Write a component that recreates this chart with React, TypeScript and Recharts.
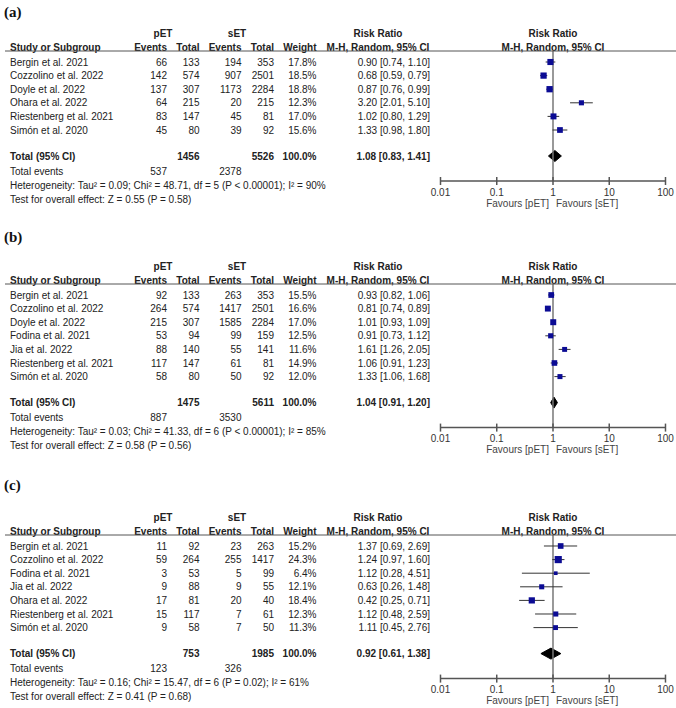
import React from "react";
import {
  Area,
  ComposedChart,
  ErrorBar,
  ReferenceLine,
  Scatter,
  XAxis,
  YAxis,
} from "recharts";

// panel (a)
const studiesA = ["Bergin et al. 2021", "Cozzolino et al. 2022", "Doyle et al. 2022", "Ohara et al. 2022", "Riestenberg et al. 2021", "Simón et al. 2020"];
const pEventsA = [66, 142, 137, 64, 83, 45];
const pTotalA = [133, 574, 307, 215, 147, 80];
const sEventsA = [194, 907, 1173, 20, 45, 39];
const sTotalA = [353, 2501, 2284, 215, 81, 92];
const weightA = [17.8, 18.5, 18.8, 12.3, 17.0, 15.6];
const rrA = [0.9, 0.68, 0.87, 3.2, 1.02, 1.33];
const loA = [0.74, 0.59, 0.76, 2.01, 0.8, 0.98];
const hiA = [1.1, 0.79, 0.99, 5.1, 1.29, 1.8];
const pooledA = [1.08, 0.83, 1.41];
const totalsA = [1456, 5526];
const eventsA = [537, 2378];
const hetA = "Heterogeneity: Tau² = 0.09; Chi² = 48.71, df = 5 (P < 0.00001); I² = 90%";
const testA = "Test for overall effect: Z = 0.55 (P = 0.58)";

// panel (b)
const studiesB = ["Bergin et al. 2021", "Cozzolino et al. 2022", "Doyle et al. 2022", "Fodina et al. 2021", "Jia et al. 2022", "Riestenberg et al. 2021", "Simón et al. 2020"];
const pEventsB = [92, 264, 215, 53, 88, 117, 58];
const pTotalB = [133, 574, 307, 94, 140, 147, 80];
const sEventsB = [263, 1417, 1585, 99, 55, 61, 50];
const sTotalB = [353, 2501, 2284, 159, 141, 81, 92];
const weightB = [15.5, 16.6, 17.0, 12.5, 11.6, 14.9, 12.0];
const rrB = [0.93, 0.81, 1.01, 0.91, 1.61, 1.06, 1.33];
const loB = [0.82, 0.74, 0.93, 0.73, 1.26, 0.91, 1.06];
const hiB = [1.06, 0.89, 1.09, 1.12, 2.05, 1.23, 1.68];
const pooledB = [1.04, 0.91, 1.2];
const totalsB = [1475, 5611];
const eventsB = [887, 3530];
const hetB = "Heterogeneity: Tau² = 0.03; Chi² = 41.33, df = 6 (P < 0.00001); I² = 85%";
const testB = "Test for overall effect: Z = 0.58 (P = 0.56)";

// panel (c)
const studiesC = ["Bergin et al. 2021", "Cozzolino et al. 2022", "Fodina et al. 2021", "Jia et al. 2022", "Ohara et al. 2022", "Riestenberg et al. 2021", "Simón et al. 2020"];
const pEventsC = [11, 59, 3, 9, 17, 15, 9];
const pTotalC = [92, 264, 53, 88, 81, 117, 58];
const sEventsC = [23, 255, 5, 9, 20, 7, 7];
const sTotalC = [263, 1417, 99, 55, 40, 61, 50];
const weightC = [15.2, 24.3, 6.4, 12.1, 18.4, 12.3, 11.3];
const rrC = [1.37, 1.24, 1.12, 0.63, 0.42, 1.12, 1.11];
const loC = [0.69, 0.97, 0.28, 0.26, 0.25, 0.48, 0.45];
const hiC = [2.69, 1.6, 4.51, 1.48, 0.71, 2.59, 2.76];
const pooledC = [0.92, 0.61, 1.38];
const totalsC = [753, 1985];
const eventsC = [123, 326];
const hetC = "Heterogeneity: Tau² = 0.16; Chi² = 15.47, df = 6 (P = 0.02); I² = 61%";
const testC = "Test for overall effect: Z = 0.41 (P = 0.68)";

const axisTicks = [0.01, 0.1, 1, 10, 100];

const FONT = "'Liberation Sans', Arial, sans-serif";
const TXT = "#222";
const ROW = 13.6;
const W = 676;
const PLOT_L = 440.5;
const PLOT_R = 665.5;

const COL = {
  study: 10,
  pEv: 167,
  pTot: 199.5,
  sEv: 241.5,
  sTot: 274,
  weight: 316.5,
  rr: 430,
  rrHead: 378,
  plotHead: 553,
  pET: 163,
  sET: 237,
};

const rrLabel = (r: number, l: number, h: number) =>
  `${r.toFixed(2)} [${l.toFixed(2)}, ${h.toFixed(2)}]`;

// tick mark crosses the axis line, label below
function LogTick(props: any) {
  const { x, y, payload } = props;
  return (
    <g>
      <line x1={x} x2={x} y1={y - 4} y2={y + 4} stroke="#555" strokeWidth={1.5} />
      <text x={x} y={y + 11} textAnchor="middle" dominantBaseline="central" fontSize={10} fontFamily={FONT} fill="#333">
        {String(payload.value)}
      </text>
    </g>
  );
}

// study box, area follows the weight
function Square(props: any) {
  const { cx, cy, payload } = props;
  if (cx == null || cy == null) return null;
  const s = 1.45 * Math.sqrt(payload.w);
  return <rect x={cx - s / 2} y={cy - s / 2} width={s} height={s} fill="#0b0b94" />;
}

type PanelProps = {
  tag: string;
  labelY: number;
  headY: number;
  studies: string[];
  pEv: number[];
  pTot: number[];
  sEv: number[];
  sTot: number[];
  weight: number[];
  rr: number[];
  lo: number[];
  hi: number[];
  pooled: number[];
  totals: number[];
  events: number[];
  het: string;
  test: string;
};

function Panel(p: PanelProps) {
  const n = p.studies.length;
  const lineY = p.headY + 4;
  const firstRow = p.headY + 15;
  const lastRow = firstRow + (n - 1) * ROW;
  const totalY = lastRow + 26;
  const axisY = totalY + 25;
  const toRow = (px: number) => (px - firstRow) / ROW;

  const points = p.studies.map((s, i) => ({
    x: p.rr[i],
    y: i,
    w: p.weight[i],
    err: [p.rr[i] - p.lo[i], p.hi[i] - p.rr[i]],
  }));
  const tRow = toRow(totalY);
  const dh = 5.5 / ROW;
  const diamond = [
    { x: p.pooled[1], d: [tRow, tRow] },
    { x: p.pooled[0], d: [tRow - dh, tRow + dh] },
    { x: p.pooled[2], d: [tRow, tRow] },
  ];

  const t = (x: number, y: number, s: string | number, anchor = "end", bold = false) => (
    <text
      x={x}
      y={y}
      textAnchor={anchor as any}
      dominantBaseline="central"
      fontSize={10}
      fontWeight={bold ? "bold" : "normal"}
      fontFamily={FONT}
      fill={TXT}
    >
      {s}
    </text>
  );

  return (
    <>
      <div style={{ position: "absolute", left: 0, top: lineY, width: W, height: axisY - lineY + 30 }}>
        <ComposedChart
          width={W}
          height={axisY - lineY + 30}
          margin={{ top: 0, right: W - PLOT_R, bottom: 0, left: PLOT_L }}
        >
          <XAxis
            type="number"
            dataKey="x"
            scale="log"
            domain={[0.01, 100]}
            ticks={axisTicks}
            interval={0}
            allowDataOverflow
            height={30}
            axisLine={{ stroke: "#555", strokeWidth: 1.5 }}
            tickLine={false}
            tickSize={0}
            tickMargin={0}
            tick={<LogTick />}
          />
          <YAxis
            type="number"
            dataKey="y"
            domain={[toRow(lineY), toRow(axisY)]}
            reversed
            hide
            allowDataOverflow
          />
          <ReferenceLine x={1} stroke="#777" strokeWidth={1.5} />
          <Area
            data={diamond}
            dataKey="d"
            type="linear"
            fill="#000"
            fillOpacity={1}
            stroke="#000"
            strokeWidth={1}
            isAnimationActive={false}
            dot={false}
            activeDot={false}
          />
          <Scatter data={points} shape={<Square />} isAnimationActive={false}>
            <ErrorBar dataKey="err" direction="x" width={0} stroke="#333" strokeWidth={1} />
          </Scatter>
        </ComposedChart>
      </div>
      <svg
        width={W}
        height={708}
        style={{ position: "absolute", left: 0, top: 0, pointerEvents: "none" }}
      >
        <text x={4} y={p.labelY} dominantBaseline="central" fontSize={15} fontWeight="bold" fontFamily="'Liberation Serif', 'Times New Roman', serif" fill="#111">
          {p.tag}
        </text>
        {t(COL.pET, p.headY - 13.5, "pET", "middle", true)}
        {t(COL.sET, p.headY - 13.5, "sET", "middle", true)}
        {t(COL.rrHead, p.headY - 13.5, "Risk Ratio", "middle", true)}
        {t(COL.plotHead, p.headY - 13.5, "Risk Ratio", "middle", true)}
        {t(COL.study, p.headY, "Study or Subgroup", "start", true)}
        {t(COL.pEv, p.headY, "Events", "end", true)}
        {t(COL.pTot, p.headY, "Total", "end", true)}
        {t(COL.sEv, p.headY, "Events", "end", true)}
        {t(COL.sTot, p.headY, "Total", "end", true)}
        {t(COL.weight, p.headY, "Weight", "end", true)}
        {t(COL.rrHead, p.headY, "M-H, Random, 95% CI", "middle", true)}
        {t(COL.plotHead, p.headY, "M-H, Random, 95% CI", "middle", true)}
        <line x1={5} x2={W} y1={lineY} y2={lineY} stroke="#555" strokeWidth={1} />
        {p.studies.map((s, i) => {
          const y = firstRow + i * ROW;
          return (
            <g key={s}>
              {t(COL.study, y, s, "start")}
              {t(COL.pEv, y, p.pEv[i])}
              {t(COL.pTot, y, p.pTot[i])}
              {t(COL.sEv, y, p.sEv[i])}
              {t(COL.sTot, y, p.sTot[i])}
              {t(COL.weight, y, `${p.weight[i].toFixed(1)}%`)}
              {t(COL.rr, y, rrLabel(p.rr[i], p.lo[i], p.hi[i]))}
            </g>
          );
        })}
        {t(COL.study, totalY, "Total (95% CI)", "start", true)}
        {t(COL.pTot, totalY, p.totals[0], "end", true)}
        {t(COL.sTot, totalY, p.totals[1], "end", true)}
        {t(COL.weight, totalY, "100.0%", "end", true)}
        {t(COL.rr, totalY, rrLabel(p.pooled[0], p.pooled[1], p.pooled[2]), "end", true)}
        {t(COL.study, totalY + 15, "Total events", "start")}
        {t(COL.pEv, totalY + 15, p.events[0])}
        {t(COL.sEv, totalY + 15, p.events[1])}
        {t(COL.study, totalY + 29, p.het, "start")}
        {t(COL.study, totalY + 43, p.test, "start")}
        <text x={549} y={axisY + 22} textAnchor="end" dominantBaseline="central" fontSize={10} fontFamily={FONT} fill="#444">
          Favours [pET]
        </text>
        <text x={556} y={axisY + 22} textAnchor="start" dominantBaseline="central" fontSize={10} fontFamily={FONT} fill="#444">
          Favours [sET]
        </text>
      </svg>
    </>
  );
}

export default function App() {
  return (
    <div style={{ position: "absolute", left: 0, top: 0, width: W, height: 708, background: "#fff", overflow: "hidden" }}>
      <Panel
        tag="(a)" labelY={12} headY={47}
        studies={studiesA} pEv={pEventsA} pTot={pTotalA} sEv={sEventsA} sTot={sTotalA}
        weight={weightA} rr={rrA} lo={loA} hi={hiA}
        pooled={pooledA} totals={totalsA} events={eventsA} het={hetA} test={testA}
      />
      <Panel
        tag="(b)" labelY={237} headY={280}
        studies={studiesB} pEv={pEventsB} pTot={pTotalB} sEv={sEventsB} sTot={sTotalB}
        weight={weightB} rr={rrB} lo={loB} hi={hiB}
        pooled={pooledB} totals={totalsB} events={eventsB} het={hetB} test={testB}
      />
      <Panel
        tag="(c)" labelY={485} headY={531}
        studies={studiesC} pEv={pEventsC} pTot={pTotalC} sEv={sEventsC} sTot={sTotalC}
        weight={weightC} rr={rrC} lo={loC} hi={hiC}
        pooled={pooledC} totals={totalsC} events={eventsC} het={hetC} test={testC}
      />
    </div>
  );
}
